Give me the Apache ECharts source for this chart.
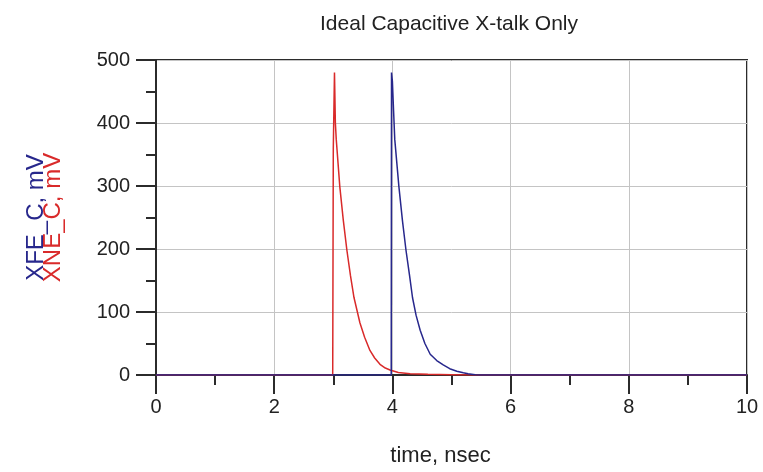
<!DOCTYPE html>
<html>
<head>
<meta charset="utf-8">
<script src="https://cdn.jsdelivr.net/npm/echarts@6/dist/echarts.min.js"></script>
<style>
  html, body { margin: 0; padding: 0; background: #fff; }
  #chart { width: 763px; height: 472px; }
</style>
</head>
<body>
<div id="chart"></div>
<script>
// Near-end crosstalk waveform (time in ns, voltage in mV)
const xneTime = [0, 2.99, 3.0, 3.02, 3.035, 3.05, 3.11, 3.17, 3.23, 3.29, 3.35, 3.45, 3.53, 3.62, 3.70, 3.79, 3.88, 3.96, 4.1, 4.3, 4.6, 5.0, 5.4, 10];
const xneMv   = [0, 0,    360, 480,  400,   374,  299,  245,  198,  158,  123,  83,   60,   39,   27,   17,   11,   8,    4,   2,   1,   0.5, 0,   0];

// Far-end crosstalk waveform (time in ns, voltage in mV)
const xfeTime = [0, 3.98, 3.985, 4.0, 4.02, 4.04, 4.11, 4.17, 4.23, 4.29, 4.34, 4.40, 4.47, 4.55, 4.64, 4.75, 4.86, 4.97, 5.09, 5.2, 5.28, 5.4, 5.5, 10];
const xfeMv   = [0, 0,    480,   466, 419,  374,  299,  245,  198,  158,  123,  95,   71,   50,   33,   23,   16,   10,   6,    3.5, 2,    0.5, 0,   0];

// Axis ticks
const xTicks = [0, 2, 4, 6, 8, 10];
const yTicks = [0, 100, 200, 300, 400, 500];

const titleText = 'Ideal Capacitive X-talk Only';
const xName = 'time, nsec';
const yNameFe = 'XFE_C, mV';
const yNameNe = 'XNE_C, mV';

const FONT = '"Liberation Sans", Arial, sans-serif';
const BLUE = '#27278c';
const RED = '#d92a2a';
const AXIS = '#2b2b2b';
const TEXT = '#222222';

const pair = (t, v) => t.map((x, i) => [x, v[i]]);

const chart = echarts.init(document.getElementById('chart'), null, { renderer: 'canvas' });
chart.setOption({
  animation: false,
  backgroundColor: '#ffffff',
  title: {
    text: titleText,
    left: 444,
    top: 9,
    textAlign: 'center',
    textStyle: { fontFamily: FONT, fontSize: 21, fontWeight: 'normal', color: TEXT }
  },
  grid: {
    left: 156, right: 16, top: 60, bottom: 94,
    show: true, borderColor: AXIS, borderWidth: 2, backgroundColor: 'transparent'
  },
  xAxis: {
    type: 'value',
    min: xTicks[0], max: xTicks[xTicks.length - 1], interval: xTicks[1] - xTicks[0],
    name: xName, nameLocation: 'middle', nameGap: 70,
    nameTextStyle: { fontFamily: FONT, fontSize: 22, color: TEXT, padding: [0, 22, 0, 0] },
    axisLine: { show: true, onZero: false, lineStyle: { color: AXIS, width: 2 } },
    axisTick: { show: true, inside: false, length: 19, lineStyle: { color: AXIS, width: 2 } },
    minorTick: { show: true, splitNumber: 2, length: 10, lineStyle: { color: AXIS, width: 2 } },
    axisLabel: { fontFamily: FONT, fontSize: 20, color: TEXT, margin: 22 },
    splitLine: { show: true, lineStyle: { color: '#c4c4c4', width: 1 } }
  },
  yAxis: {
    type: 'value',
    min: yTicks[0], max: yTicks[yTicks.length - 1], interval: yTicks[1] - yTicks[0],
    name: '{fe|' + yNameFe + '}\n{ne|' + yNameNe + '}',
    nameLocation: 'middle', nameRotate: 90, nameGap: 94,
    nameTextStyle: {
      fontFamily: FONT, fontSize: 24, lineHeight: 17,
      rich: {
        fe: { color: BLUE, fontFamily: FONT, fontSize: 24, lineHeight: 17 },
        ne: { color: RED, fontFamily: FONT, fontSize: 24, lineHeight: 17 }
      }
    },
    axisLine: { show: true, onZero: false, lineStyle: { color: AXIS, width: 2 } },
    axisTick: { show: true, inside: false, length: 20, lineStyle: { color: AXIS, width: 2 } },
    minorTick: { show: true, splitNumber: 2, length: 10, lineStyle: { color: AXIS, width: 2 } },
    axisLabel: { fontFamily: FONT, fontSize: 20, color: TEXT, margin: 26 },
    splitLine: { show: true, lineStyle: { color: '#c4c4c4', width: 1 } }
  },
  series: [
    {
      name: yNameNe, type: 'line', data: pair(xneTime, xneMv),
      showSymbol: false, symbol: 'none',
      lineStyle: { color: RED, width: 1.5 }, itemStyle: { color: RED }, z: 3
    },
    {
      name: yNameFe, type: 'line', data: pair(xfeTime, xfeMv),
      showSymbol: false, symbol: 'none',
      lineStyle: { color: BLUE, width: 1.5 }, itemStyle: { color: BLUE }, z: 4
    }
  ]
});
</script>
</body>
</html>
